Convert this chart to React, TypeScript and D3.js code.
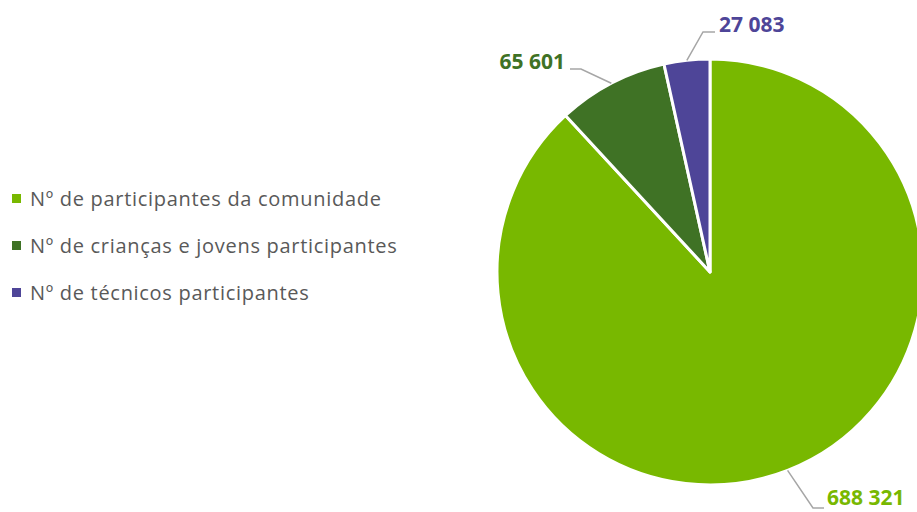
import React from "react";
import * as d3 from "d3";

const categories = [
  "Nº de participantes da comunidade",
  "Nº de crianças e jovens participantes",
  "Nº de técnicos participantes",
];
const values = [688321, 65601, 27083];
const colors = ["#78b800", "#3f7225", "#4e4598"];

const W = 917;
const H = 512;
const cx = 710;
const cy = 272;
const r = 213;

// label layout: elbow point, end of leader, text anchor per slice
const labelLayout = [
  { elbow: [813, 508], end: [824, 508], tx: 827, ty: 505, anchor: "start" },
  { elbow: [581, 69], end: [570, 69], tx: 565, ty: 69, anchor: "end" },
  { elbow: [703, 32], end: [715, 32], tx: 719, ty: 32, anchor: "start" },
];

const fmt = (v: number) => d3.format(",")(v).replace(/,/g, " ");

export default function App() {
  const pie = d3
    .pie<number>()
    .sort(null)
    .value((d) => d);
  const arcs = pie(values);
  const arc = d3.arc<d3.PieArcDatum<number>>().innerRadius(0).outerRadius(r);

  return (
    <svg
      width={W}
      height={H}
      style={{ position: "absolute", left: 0, top: 0, overflow: "hidden" }}
      fontFamily="'Open Sans', 'Noto Sans', sans-serif"
    >
      <g transform={`translate(${cx},${cy})`}>
        {arcs.map((a, i) => (
          <path
            key={i}
            d={arc(a) || ""}
            fill={colors[i]}
            stroke="#ffffff"
            strokeWidth={3}
            strokeLinejoin="round"
          />
        ))}
      </g>
      {arcs.map((a, i) => {
        const mid = (a.startAngle + a.endAngle) / 2;
        const px = cx + r * Math.sin(mid);
        const py = cy - r * Math.cos(mid);
        const L = labelLayout[i];
        return (
          <g key={"l" + i}>
            <polyline
              points={`${px},${py} ${L.elbow[0]},${L.elbow[1]} ${L.end[0]},${L.end[1]}`}
              fill="none"
              stroke="#a6a6a6"
              strokeWidth={1.5}
            />
            <text
              x={L.tx}
              y={L.ty}
              textAnchor={L.anchor as any}
              fontSize={21}
              fontWeight="bold"
              fill={colors[i]}
            >
              {fmt(values[i])}
            </text>
          </g>
        );
      })}
      {categories.map((c, i) => {
        const y = 198 + i * 47;
        return (
          <g key={"lg" + i}>
            <rect x={12} y={y - 4} width={9} height={9} fill={colors[i]} />
            <text
              x={30}
              y={y}
              dominantBaseline="central"
              fontSize={20}
              letterSpacing={0.7}
              fill="#595959"
            >
              {c}
            </text>
          </g>
        );
      })}
    </svg>
  );
}
